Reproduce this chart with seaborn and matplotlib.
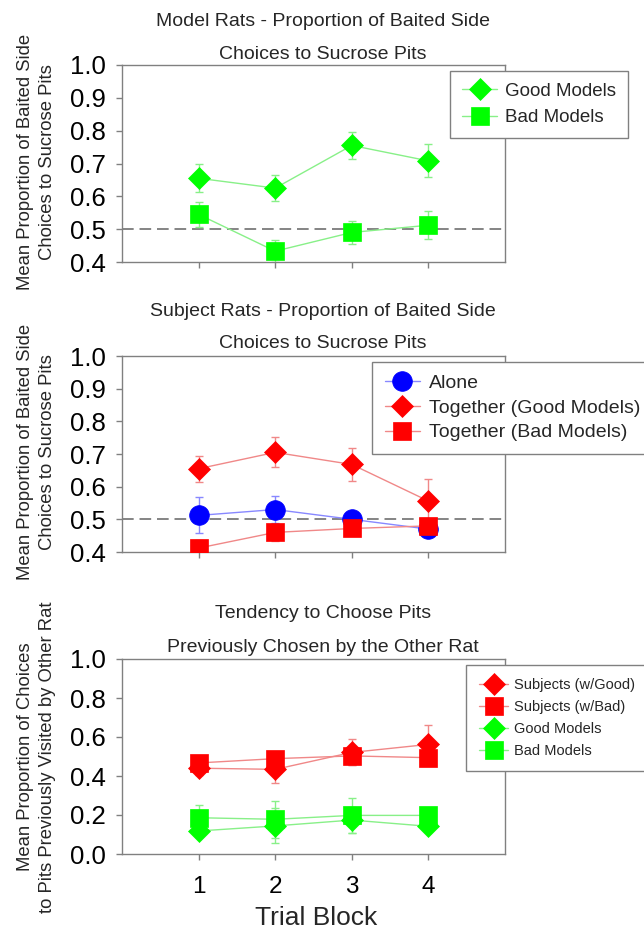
import numpy as np
import pandas as pd
import matplotlib
matplotlib.use("Agg")
import matplotlib.pyplot as plt
import seaborn as sns
from matplotlib.lines import Line2D

# ---- data ----
blocks = [1, 2, 3, 4]

# Panel 1: model rats
model_good = [0.655, 0.625, 0.755, 0.708]
model_good_err = [0.043, 0.040, 0.042, 0.050]
model_bad = [0.545, 0.433, 0.490, 0.512]
model_bad_err = [0.038, 0.034, 0.035, 0.043]

# Panel 2: subject rats
alone = [0.512, 0.530, 0.500, 0.470]
alone_err = [0.055, 0.042, 0.012, 0.025]
tog_good = [0.655, 0.705, 0.668, 0.556]
tog_good_err = [0.040, 0.046, 0.050, 0.068]
tog_bad = [0.412, 0.460, 0.472, 0.480]
tog_bad_err = [0.025, 0.025, 0.020, 0.020]

# Panel 3: tendency to choose pits previously chosen by the other rat
subj_good = [0.440, 0.434, 0.521, 0.562]
subj_good_err = [0.035, 0.070, 0.067, 0.100]
subj_bad = [0.467, 0.489, 0.503, 0.494]
subj_bad_err = [0.030, 0.030, 0.045, 0.030]
mod_good = [0.118, 0.144, 0.174, 0.142]
mod_good_err = [0.030, 0.090, 0.065, 0.030]
mod_bad = [0.186, 0.178, 0.198, 0.198]
mod_bad_err = [0.065, 0.095, 0.090, 0.020]

y_ticks_top = [0.4, 0.5, 0.6, 0.7, 0.8, 0.9, 1.0]
y_ticks_bottom = [0.0, 0.2, 0.4, 0.6, 0.8, 1.0]

GREEN = "#00ff00"
GREEN_L = "#88f088"
RED = "#ff0000"
RED_L = "#f08888"
BLUE = "#0000ff"
BLUE_L = "#8888ff"
SPINE = "#808080"

MS = {"D": 11.6, "s": 12.6, "o": 14.2}

sns.set_style("white")
plt.rcParams["font.family"] = ["Liberation Sans", "DejaVu Sans"]

W, H = 644, 931
fig = plt.figure(figsize=(W / 100, H / 100), dpi=100)

AX_L, AX_R = 122, 505
XC = 323 / W
TITLE_FS = 14
YLAB_FS = 13.3


def fig_rect(left, top, right, bottom):
    return [left / W, 1 - bottom / H, (right - left) / W, (bottom - top) / H]


def style_axes(ax, ylim, yticks, show_xlabels):
    ax.set_xlim(0, 5)
    ax.set_ylim(*ylim)
    ax.set_xticks(blocks)
    ax.set_yticks(yticks)
    ax.set_yticklabels([f"{t:.1f}" for t in yticks], fontsize=18.5)
    if show_xlabels:
        ax.set_xticklabels([str(b) for b in blocks], fontsize=17.5)
    else:
        ax.set_xticklabels([])
    for s in ax.spines.values():
        s.set_color(SPINE)
        s.set_linewidth(1.0)
        s.set_visible(True)
    ax.tick_params(axis="y", direction="out", length=4, width=1,
                   color=SPINE, labelcolor="black", pad=7.5, left=True)
    ax.tick_params(axis="x", direction="out", length=4, width=1,
                   color=SPINE, labelcolor="black", pad=11.5, bottom=True)
    ax.set_xlabel("")
    ax.set_ylabel("")


def draw_series(ax, y, err, marker, color, light, label):
    df = pd.DataFrame({"block": blocks, "value": y})
    ax.errorbar(blocks, y, yerr=err, fmt="none", ecolor=light,
                elinewidth=1.0, capsize=2.6, capthick=1.0, zorder=2)
    sns.lineplot(data=df, x="block", y="value", ax=ax, color=light,
                 linewidth=1.0, marker=marker, markersize=MS[marker],
                 markerfacecolor=color, markeredgecolor=color,
                 markeredgewidth=0.5, label=label, legend=False, zorder=3)
    return Line2D([0], [0], color=light, linewidth=1.0, marker=marker,
                  markersize=MS[marker], markerfacecolor=color,
                  markeredgecolor=color, markeredgewidth=0.5)


def add_legend(ax, handles, labels, left, top, fs, hl, htp, lsp, bpad):
    leg = ax.legend(handles, labels, loc="upper left",
                    bbox_to_anchor=(left / W, 1 - top / H),
                    bbox_transform=fig.transFigure, borderaxespad=0,
                    frameon=True, fancybox=False, framealpha=1, fontsize=fs,
                    handlelength=hl, handletextpad=htp, labelspacing=lsp,
                    borderpad=bpad)
    leg.get_frame().set_edgecolor(SPINE)
    leg.get_frame().set_linewidth(1.0)
    leg.set_zorder(5)


def titles(line1, line2, base1, base2):
    fig.text(XC, 1 - base1 / H, line1, ha="center", va="baseline", fontsize=TITLE_FS)
    fig.text(XC, 1 - base2 / H, line2, ha="center", va="baseline", fontsize=TITLE_FS)


def ylabels(line1, line2, yc):
    fig.text(26 / W, 1 - yc / H, line1, rotation=90, ha="center",
             va="center", fontsize=YLAB_FS)
    fig.text(48 / W, 1 - yc / H, line2, rotation=90, ha="center",
             va="center", fontsize=YLAB_FS)


# ---- panel 1 ----
ax1 = fig.add_axes(fig_rect(AX_L, 65, AX_R, 262))
ax1.axhline(0.5, color="#707070", linestyle=(0, (7, 3.5)), linewidth=1.2, zorder=1)
h1 = draw_series(ax1, model_good, model_good_err, "D", GREEN, GREEN_L, "Good Models")
h2 = draw_series(ax1, model_bad, model_bad_err, "s", GREEN, GREEN_L, "Bad Models")
style_axes(ax1, (0.4, 1.0), y_ticks_top, False)
add_legend(ax1, [h1, h2], ["Good Models", "Bad Models"], 450, 71,
           13.5, 1.9, 0.4, 0.5, 0.63)
titles("Model Rats - Proportion of Baited Side", "Choices to Sucrose Pits", 26.5, 59)
ylabels("Mean Proportion of Baited Side", "Choices to Sucrose Pits", 162)

# ---- panel 2 ----
ax2 = fig.add_axes(fig_rect(AX_L, 356, AX_R, 552))
ax2.axhline(0.5, color="#707070", linestyle=(0, (7, 3.5)), linewidth=1.2, zorder=1)
h3 = draw_series(ax2, alone, alone_err, "o", BLUE, BLUE_L, "Alone")
h4 = draw_series(ax2, tog_good, tog_good_err, "D", RED, RED_L, "Together (Good Models)")
h5 = draw_series(ax2, tog_bad, tog_bad_err, "s", RED, RED_L, "Together (Bad Models)")
style_axes(ax2, (0.4, 1.0), y_ticks_top, False)
add_legend(ax2, [h3, h4, h5], ["Alone", "Together (Good Models)", "Together (Bad Models)"],
           372, 362, 14, 1.8, 0.5, 0.36, 0.65)
titles("Subject Rats - Proportion of Baited Side", "Choices to Sucrose Pits", 315.5, 348.5)
ylabels("Mean Proportion of Baited Side", "Choices to Sucrose Pits", 452)

# ---- panel 3 ----
ax3 = fig.add_axes(fig_rect(AX_L, 659, AX_R, 854))
h6 = draw_series(ax3, subj_good, subj_good_err, "D", RED, RED_L, "Subjects (w/Good)")
h7 = draw_series(ax3, subj_bad, subj_bad_err, "s", RED, RED_L, "Subjects (w/Bad)")
h8 = draw_series(ax3, mod_good, mod_good_err, "D", GREEN, GREEN_L, "Good Models")
h9 = draw_series(ax3, mod_bad, mod_bad_err, "s", GREEN, GREEN_L, "Bad Models")
style_axes(ax3, (0.0, 1.0), y_ticks_bottom, True)
add_legend(ax3, [h6, h7, h8, h9],
           ["Subjects (w/Good)", "Subjects (w/Bad)", "Good Models", "Bad Models"],
           466, 665, 10.5, 2.0, 0.4, 0.55, 0.9)
titles("Tendency to Choose Pits", "Previously Chosen by the Other Rat", 618.5, 651.5)
ylabels("Mean Proportion of Choices", "to Pits Previously Visited by Other Rat", 757)
fig.text(316 / W, 1 - 925 / H, "Trial Block", ha="center", va="baseline", fontsize=19)

fig.savefig("out.png", dpi=100)
